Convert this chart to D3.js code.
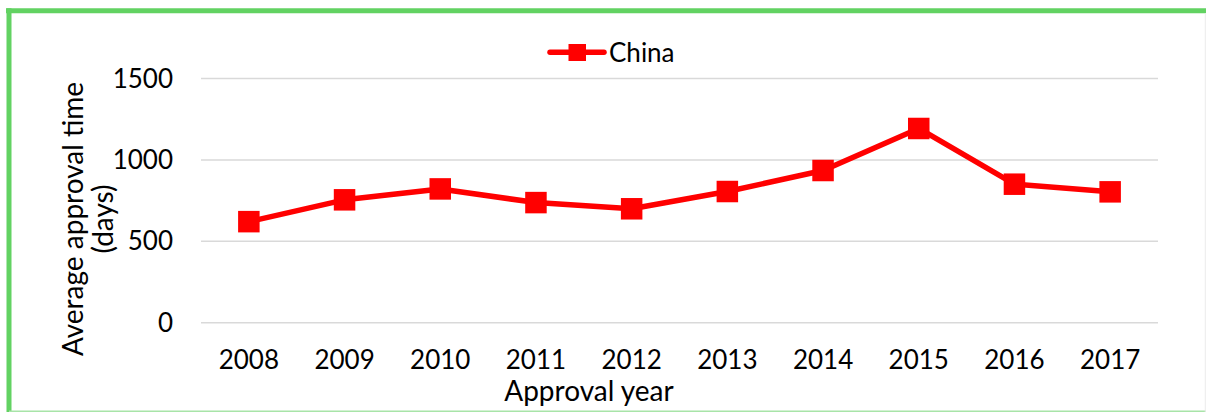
<!DOCTYPE html>
<html>
<head>
<meta charset="utf-8">
<script src="https://cdn.jsdelivr.net/npm/d3@7"></script>
<style>
html,body{margin:0;padding:0;background:#fff;}
svg{display:block;}
text{font-family:Lato,"Open Sans",sans-serif;fill:#000;}
</style>
</head>
<body>
<svg id="chart" width="1206" height="412"></svg>
<script>
const years = ["2008","2009","2010","2011","2012","2013","2014","2015","2016","2017"];
const chinaValues = [618, 752, 819, 735, 697, 803, 932, 1190, 848, 801];
const yTicks = [0, 500, 1000, 1500];
const seriesName = "China";

(function(){
const svg = d3.select("#chart");
const W = 1206, H = 412;
const pLeft = 201, pRight = 1158, pTop = 78, pBottom = 322.3;
const fs = 26, tfs = 28;

// border
svg.append("line").attr("x1",6).attr("x2",W).attr("y1",10.8).attr("y2",10.8)
  .attr("stroke","#62d262").attr("stroke-width",5);
svg.append("line").attr("x1",9).attr("x2",9).attr("y1",8.3).attr("y2",H)
  .attr("stroke","#62d262").attr("stroke-width",5);
svg.append("line").attr("x1",9).attr("x2",W).attr("y1",411.2).attr("y2",411.2)
  .attr("stroke","#a8e4a8").attr("stroke-width",1.6);
svg.append("line").attr("x1",1205.3).attr("x2",1205.3).attr("y1",13).attr("y2",H)
  .attr("stroke","#ececec").attr("stroke-width",1);

const x = d3.scaleBand().domain(years).range([pLeft, pRight]);
const y = d3.scaleLinear().domain([0, 1500]).range([pBottom, pTop]);

// gridlines
const yAxis = d3.axisLeft(y).tickValues(yTicks).tickSize(-(pRight-pLeft)).tickPadding(28).tickFormat(d3.format("d"));
const gy = svg.append("g").attr("transform",`translate(${pLeft},0)`).call(yAxis);
gy.select(".domain").remove();
gy.selectAll(".tick line").attr("stroke","#d9d9d9").attr("stroke-width",1.5);
gy.selectAll(".tick text").attr("font-size",fs).attr("font-family","Lato").attr("fill","#000").attr("dy","0.35em");

const xAxis = d3.axisBottom(x).tickSize(0).tickPadding(0);
const gx = svg.append("g").attr("transform",`translate(0,${pBottom})`).call(xAxis);
gx.select(".domain").remove();
gx.selectAll(".tick text").attr("font-size",fs).attr("font-family","Lato").attr("fill","#000")
  .attr("dy",null).attr("y",47);

// line
const data = years.map((yr,i)=>({yr, v: chinaValues[i]}));
const line = d3.line().x(d=>x(d.yr)+x.bandwidth()/2).y(d=>y(d.v));
svg.append("path").datum(data).attr("d",line).attr("fill","none")
  .attr("stroke","#ff0000").attr("stroke-width",5.5).attr("stroke-linejoin","round");
const ms = 21.5;
svg.selectAll("rect.m").data(data).enter().append("rect").attr("class","m")
  .attr("x",d=>x(d.yr)+x.bandwidth()/2-ms/2).attr("y",d=>y(d.v)-ms/2)
  .attr("width",ms).attr("height",ms).attr("fill","#ff0000");

// legend
const lg = svg.append("g");
lg.append("line").attr("x1",550).attr("x2",604).attr("y1",52.3).attr("y2",52.3)
  .attr("stroke","#ff0000").attr("stroke-width",5.5).attr("stroke-linecap","round");
lg.append("rect").attr("x",568.5).attr("y",44).attr("width",17.5).attr("height",17)
  .attr("fill","#ff0000");
lg.append("text").attr("x",609).attr("y",61.5).attr("font-size",fs).text(seriesName);

// axis titles
svg.append("text").attr("x",589).attr("y",401).attr("text-anchor","middle")
  .attr("font-size",tfs).text("Approval year");
const yt = svg.append("text").attr("transform","translate(83,219) rotate(-90)")
  .attr("text-anchor","middle").attr("font-size",tfs);
yt.append("tspan").attr("x",0).attr("y",0).text("Average approval time");
yt.append("tspan").attr("x",0).attr("y",30).text("(days)");
})();
</script>
</body>
</html>
